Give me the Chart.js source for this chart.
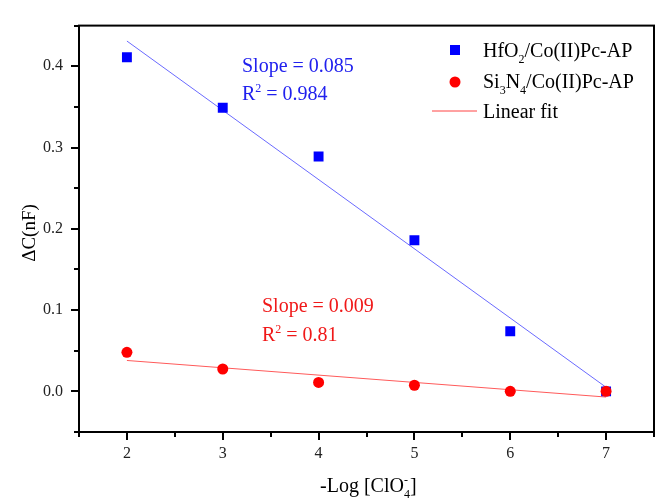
<!DOCTYPE html>
<html>
<head>
<meta charset="utf-8">
<script src="https://cdn.jsdelivr.net/npm/chart.js@4.4.0/dist/chart.umd.min.js"></script>
<style>
  body { margin: 0; background: #fff; }
</style>
</head>
<body>
<canvas id="chart" width="661" height="500"></canvas>
<script>
// -Log [ClO4-]
const logConc = [2, 3, 4, 5, 6, 7];
// delta C (nF)
const hfo2Values = [0.411, 0.349, 0.289, 0.186, 0.074, 0.0];
const si3n4Values = [0.048, 0.0275, 0.011, 0.0075, 0.0, 0.0];
// linear fit end points
const fitX = [2, 7];
const hfo2Fit = [0.431, 0.005];
const si3n4Fit = [0.038, -0.007];
// axis ticks
const xTicks = [2, 3, 4, 5, 6, 7];
const yTicks = [0.0, 0.1, 0.2, 0.3, 0.4];
const xMinorTicks = [1.5, 2.5, 3.5, 4.5, 5.5, 6.5, 7.5];
const yMinorTicks = [-0.05, 0.05, 0.15, 0.25, 0.35, 0.45];

const FONT = "'Liberation Serif', 'Times New Roman', serif";

function toPoints(xs, ys) {
    return xs.map((x, i) => ({ x: x, y: ys[i] }));
}

// draw text made of pieces, some of them sub/superscript
function drawRich(ctx, parts, x, y, size, color) {
    ctx.fillStyle = color;
    ctx.textAlign = 'left';
    ctx.textBaseline = 'alphabetic';
    let cx = x;
    parts.forEach(p => {
        if (p.stack) {
            // superscript over subscript at the same place
            ctx.font = Math.round(size * 0.62) + 'px ' + FONT;
            const w1 = ctx.measureText(p.stack[0]).width;
            const w2 = ctx.measureText(p.stack[1]).width;
            ctx.fillText(p.stack[0], cx, y - size * 0.42);
            ctx.fillText(p.stack[1], cx, y + size * 0.3);
            cx += Math.max(w1, w2);
        } else if (p.sub || p.sup) {
            ctx.font = Math.round(size * 0.62) + 'px ' + FONT;
            ctx.fillText(p.t, cx, p.sub ? y + size * 0.3 : y - size * 0.42);
            cx += ctx.measureText(p.t).width;
        } else {
            ctx.font = size + 'px ' + FONT;
            ctx.fillText(p.t, cx, y);
            cx += ctx.measureText(p.t).width;
        }
    });
    return cx - x;
}

const decorPlugin = {
    id: 'decor',
    afterDraw(chart) {
        const ctx = chart.ctx;
        const a = chart.chartArea;
        const xs = chart.scales.x;
        const ys = chart.scales.y;

        ctx.save();
        // frame
        ctx.strokeStyle = '#000';
        ctx.lineWidth = 2;
        ctx.strokeRect(a.left, a.top, a.right - a.left, a.bottom - a.top);

        // tick marks, outside
        ctx.beginPath();
        xTicks.forEach(v => {
            const px = Math.round(xs.getPixelForValue(v));
            ctx.moveTo(px, a.bottom); ctx.lineTo(px, a.bottom + 8);
        });
        xMinorTicks.forEach(v => {
            const px = Math.round(xs.getPixelForValue(v));
            ctx.moveTo(px, a.bottom); ctx.lineTo(px, a.bottom + 5);
        });
        yTicks.forEach(v => {
            const py = Math.round(ys.getPixelForValue(v));
            ctx.moveTo(a.left, py); ctx.lineTo(a.left - 8, py);
        });
        yMinorTicks.forEach(v => {
            const py = Math.round(ys.getPixelForValue(v));
            ctx.moveTo(a.left, py); ctx.lineTo(a.left - 5, py);
        });
        ctx.stroke();

        // legend
        ctx.fillStyle = '#0000ff';
        ctx.fillRect(450, 45, 10, 10);
        ctx.fillStyle = '#ff0000';
        ctx.beginPath();
        ctx.arc(455, 82, 5.5, 0, Math.PI * 2);
        ctx.fill();
        ctx.strokeStyle = '#ff4444';
        ctx.lineWidth = 1;
        ctx.beginPath();
        ctx.moveTo(432, 111); ctx.lineTo(477, 111);
        ctx.stroke();
        drawRich(ctx, [{ t: 'HfO' }, { t: '2', sub: true }, { t: '/Co(II)Pc-AP' }], 483, 57, 20, '#000');
        drawRich(ctx, [{ t: 'Si' }, { t: '3', sub: true }, { t: 'N' }, { t: '4', sub: true }, { t: '/Co(II)Pc-AP' }], 483, 88, 20, '#000');
        drawRich(ctx, [{ t: 'Linear fit' }], 483, 118, 20, '#000');

        // fit notes
        drawRich(ctx, [{ t: 'Slope = 0.085' }], 242, 72, 20, '#2020ee');
        drawRich(ctx, [{ t: 'R' }, { t: '2', sup: true }, { t: ' = 0.984' }], 242, 100, 20, '#2020ee');
        drawRich(ctx, [{ t: 'Slope = 0.009' }], 262, 312, 20, '#f01818');
        drawRich(ctx, [{ t: 'R' }, { t: '2', sup: true }, { t: ' = 0.81' }], 262, 341, 20, '#f01818');

        // axis titles
        const xTitle = [{ t: '-Log [ClO' }, { stack: ['-', '4'] }, { t: ']' }];
        drawRich(ctx, xTitle, 320, 492, 20, '#000');

        ctx.translate(30, 233);
        ctx.rotate(-Math.PI / 2);
        ctx.font = '19px ' + FONT;
        ctx.fillStyle = '#000';
        ctx.textAlign = 'center';
        ctx.textBaseline = 'middle';
        ctx.fillText('\u0394C(nF)', 0, 0);
        ctx.restore();
    }
};

new Chart(document.getElementById('chart'), {
    type: 'scatter',
    data: {
        datasets: [
            {
                label: 'Si3N4/Co(II)Pc-AP',
                data: toPoints(logConc, si3n4Values),
                pointStyle: 'circle',
                pointRadius: 5.5,
                backgroundColor: '#ff0000',
                borderColor: '#ff0000',
                borderWidth: 0
            },
            {
                label: 'HfO2/Co(II)Pc-AP',
                data: toPoints(logConc, hfo2Values),
                pointStyle: 'rect',
                pointRadius: 7,
                backgroundColor: '#0000ff',
                borderColor: '#0000ff',
                borderWidth: 0
            },
            {
                label: 'HfO2 fit',
                data: toPoints(fitX, hfo2Fit),
                showLine: true,
                pointRadius: 0,
                borderColor: '#6a6aff',
                borderWidth: 1
            },
            {
                label: 'Si3N4 fit',
                data: toPoints(fitX, si3n4Fit),
                showLine: true,
                pointRadius: 0,
                borderColor: '#ff5a5a',
                borderWidth: 1
            }
        ]
    },
    options: {
        responsive: false,
        animation: false,
        devicePixelRatio: 1,
        layout: { padding: { top: 10, right: 4, left: 0, bottom: 0 } },
        plugins: {
            legend: { display: false },
            tooltip: { enabled: false }
        },
        scales: {
            x: {
                type: 'linear',
                min: 1.5,
                max: 7.5,
                grid: { display: false, drawTicks: false },
                border: { display: false },
                afterBuildTicks: s => { s.ticks = xTicks.map(v => ({ value: v })); },
                afterFit: s => { s.height = 68; },
                ticks: {
                    padding: 12,
                    color: '#222',
                    font: { family: FONT, size: 16 },
                    callback: v => String(v)
                }
            },
            y: {
                type: 'linear',
                min: -0.05,
                max: 0.45,
                grid: { display: false, drawTicks: false },
                border: { display: false },
                afterBuildTicks: s => { s.ticks = yTicks.map(v => ({ value: v })); },
                afterFit: s => { s.width = 79; },
                ticks: {
                    padding: 16,
                    color: '#222',
                    font: { family: FONT, size: 16 },
                    callback: v => v.toFixed(1)
                }
            }
        }
    },
    plugins: [decorPlugin]
});
</script>
</body>
</html>
